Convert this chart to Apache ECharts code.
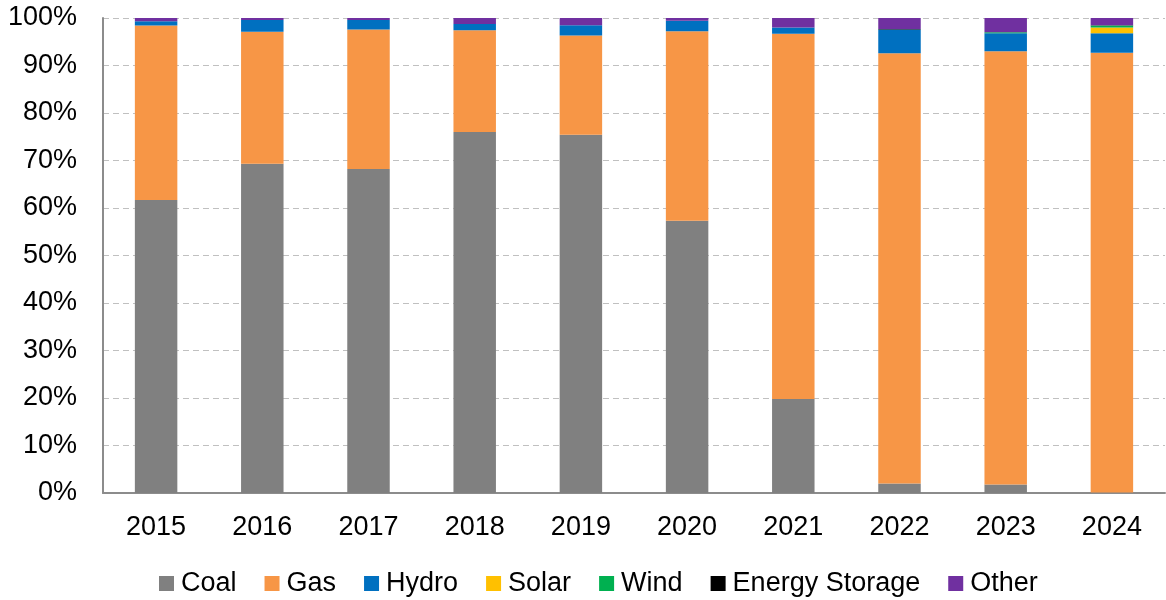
<!DOCTYPE html>
<html><head><meta charset="utf-8">
<script src="https://cdn.jsdelivr.net/npm/echarts@6/dist/echarts.min.js"></script>
<style>html,body{margin:0;padding:0;background:#fff}#c{width:1166px;height:600px}</style>
</head><body><div id="c"></div>
<script>
const years = ['2015','2016','2017','2018','2019','2020','2021','2022','2023','2024'];
const coal   = [61.7, 69.3, 68.2, 76.0, 75.4, 57.3, 19.8, 2.0, 1.8, 0.1];
const gas    = [36.7, 27.8, 29.4, 21.4, 20.9, 39.9, 76.9, 90.6, 91.2, 92.6];
const hydro  = [0.9, 2.5, 2.0, 1.35, 2.2, 2.2, 1.3, 5.0, 3.8, 4.1];
const solar  = [0, 0, 0, 0, 0, 0, 0, 0, 0, 1.2];
const wind   = [0, 0, 0, 0, 0, 0, 0, 0, 0.2, 0.4];
const storage= [0, 0, 0, 0, 0, 0, 0, 0.1, 0, 0.1];
const other  = [0.7, 0.4, 0.4, 1.25, 1.5, 0.6, 2.0, 2.3, 3.0, 1.5];
const names = ['Coal','Gas','Hydro','Solar','Wind','Energy Storage','Other'];
const colors = ['#808080','#F79646','#0070C0','#FFC000','#00B050','#000000','#7030A0'];
const dataSets = [coal, gas, hydro, solar, wind, storage, other];
const font = 'Liberation Sans, Arial, sans-serif';
const chart = echarts.init(document.getElementById('c'));
chart.setOption({
  animation: false,
  textStyle: {fontFamily: font},
  grid: {left: 103, right: 1, top: 18, bottom: 107},
  legend: {
    top: 570, left: 159, itemWidth: 15, itemHeight: 15, itemGap: 28,
    icon: 'rect', padding: 0,
    textStyle: {fontSize: 27, color: '#000', fontFamily: font, padding: [0,0,0,2]},
    data: names
  },
  xAxis: {
    type: 'category', data: years,
    axisLine: {lineStyle: {color: '#8c8c8c', width: 2}},
    axisTick: {show: false},
    axisLabel: {fontSize: 27, color: '#000', margin: 21, fontFamily: font}
  },
  yAxis: {
    type: 'value', min: 0, max: 100, interval: 10,
    axisLine: {show: true, lineStyle: {color: '#8c8c8c', width: 2}},
    axisTick: {show: false},
    splitLine: {lineStyle: {color: '#c0c0c0', type: [6, 4], width: 1}},
    axisLabel: {fontSize: 27, color: '#000', formatter: '{value}%', margin: 26, fontFamily: font, padding: [5,0,0,0]}
  },
  series: names.map((n, i) => ({
    name: n, type: 'bar', stack: 'total', data: dataSets[i],
    barWidth: '40%',
    itemStyle: {color: colors[i]}
  }))
});
</script></body></html>
